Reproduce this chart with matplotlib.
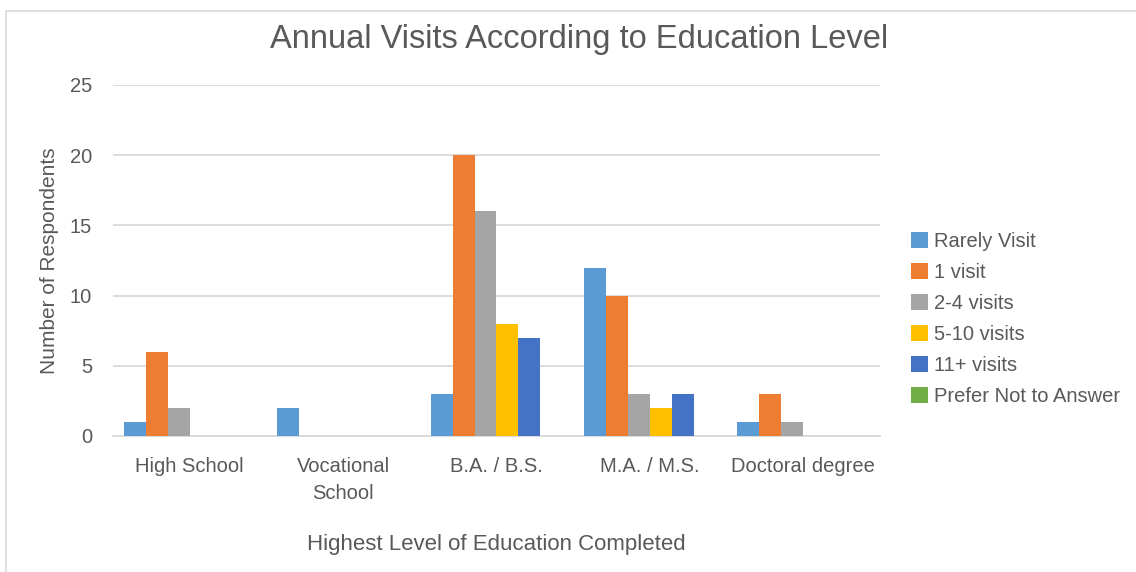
import matplotlib.pyplot as plt
import numpy as np
from matplotlib.patches import Rectangle

plt.rcParams['font.family'] = ['Liberation Sans Narrow', 'Liberation Sans', 'DejaVu Sans']

# Education levels and visit counts per category
niveis = ["High School", "Vocational\nSchool", "B.A. / B.S.", "M.A. / M.S.", "Doctoral degree"]
series = ["Rarely Visit", "1 visit", "2-4 visits", "5-10 visits", "11+ visits", "Prefer Not to Answer"]
rarely_visit = [1, 2, 3, 12, 1]
one_visit = [6, 0, 20, 10, 3]
two_four = [2, 0, 16, 3, 1]
five_ten = [0, 0, 8, 2, 0]
eleven_plus = [0, 0, 7, 3, 0]
prefer_not = [0, 0, 0, 0, 0]
valores = [rarely_visit, one_visit, two_four, five_ten, eleven_plus, prefer_not]
cores = ['#5B9BD5', '#ED7D31', '#A5A5A5', '#FFC000', '#4472C4', '#70AD47']

texto = '#595959'
x = np.arange(len(niveis))
largura = 0.143

fig = plt.figure(figsize=(11.36, 5.72), dpi=100)
fig.patches.append(Rectangle((0.005, -0.01), 1.0, 0.99, transform=fig.transFigure,
                             fill=False, edgecolor='#D9D9D9', linewidth=1.2))
ax = fig.add_axes([0.0995, 0.2378, 0.675, 0.6136])

for i, (nome, vals, cor) in enumerate(zip(series, valores, cores)):
    ax.bar(x + (i - 2.5) * largura, vals, largura, label=nome, color=cor,
           zorder=3, linewidth=0)

ax.set_xlim(-0.5, len(niveis) - 0.5)
ax.set_ylim(0, 25)
ax.set_yticks(range(0, 26, 5))
ax.yaxis.grid(True, color='#D9D9D9', linewidth=1.3, zorder=0)
for s in ['top', 'right', 'left']:
    ax.spines[s].set_visible(False)
ax.spines['bottom'].set_color('#D9D9D9')
ax.spines['bottom'].set_linewidth(1.3)
ax.tick_params(length=0, colors=texto, labelsize=14.5)
ax.tick_params(axis='x', pad=15)
ax.tick_params(axis='y', pad=15)
ax.set_xticks(x)
ax.set_xticklabels(niveis, linespacing=1.55)

ax.set_xlabel('Highest Level of Education Completed', color=texto, fontsize=16, labelpad=22)
ax.set_ylabel('Number of Respondents', color=texto, fontsize=15, labelpad=8)
fig.suptitle('Annual Visits According to Education Level', color=texto, fontsize=23.5,
             x=0.51, y=0.958)

leg = fig.legend(loc='center left', bbox_to_anchor=(0.795, 0.442), frameon=False,
                 fontsize=14.5, handlelength=0.85, handleheight=0.85, handletextpad=0.3,
                 labelspacing=0.6, borderaxespad=0)
for t in leg.get_texts():
    t.set_color(texto)

plt.savefig('out.png', dpi=100)
plt.close(fig)
